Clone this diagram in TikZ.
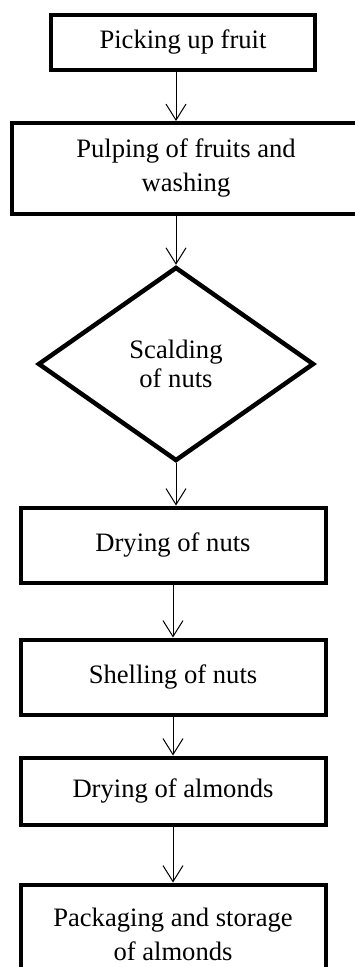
\documentclass[tikz,border=0pt]{standalone}
\usepackage{fontspec}
\setmainfont{Liberation Serif}
\usetikzlibrary{shapes.geometric,arrows.meta}
\begin{document}
\begin{tikzpicture}[x=1pt,y=-1pt,
  box/.style={draw, line width=4pt, rectangle, inner sep=0pt, align=center,
    font=\fontsize{26.6}{34}\selectfont},
  dia/.style={draw, line width=4.5pt, diamond, inner sep=0pt, align=center,
    font=\fontsize{26.6}{29}\selectfont},
  arr/.style={line width=1pt, -{Straight Barb[length=16pt,width=20pt,line width=1pt]}}]
\useasboundingbox (0,0) rectangle (355,967);
\node[box, minimum width=264pt, minimum height=54.4pt] (b1) at (183,42.5) {Picking up fruit};
\node[box, minimum width=348pt, minimum height=91pt] (b2) at (186,168.5) {Pulping of fruits and\\washing};
\node[dia, minimum width=276pt, minimum height=194pt] (sc) at (176,364) {Scalding\\of nuts};
\node[box, minimum width=305pt, minimum height=75pt] (b3) at (173,545) {Drying of nuts};
\node[box, minimum width=305pt, minimum height=75pt] (b4) at (173,677) {Shelling of nuts};
\node[box, minimum width=305pt, minimum height=67pt] (b5) at (173,791) {Drying of almonds};
\node[box, minimum width=305pt, minimum height=100pt, text depth=0pt] (b6) at (173,934.5) {Packaging and storage\\of almonds};
\draw[arr] (b1.south -| sc.north) -- (b2.north -| sc.north);
\draw[arr] (b2.south -| sc.north) -- (sc.north);
\draw[arr] (sc.south) -- (sc.south |- b3.north);
\draw[arr] (b3.south) -- (b4.north);
\draw[arr] (b4.south) -- (b5.north);
\draw[arr] (b5.south) -- (b6.north);
\end{tikzpicture}
\end{document}
